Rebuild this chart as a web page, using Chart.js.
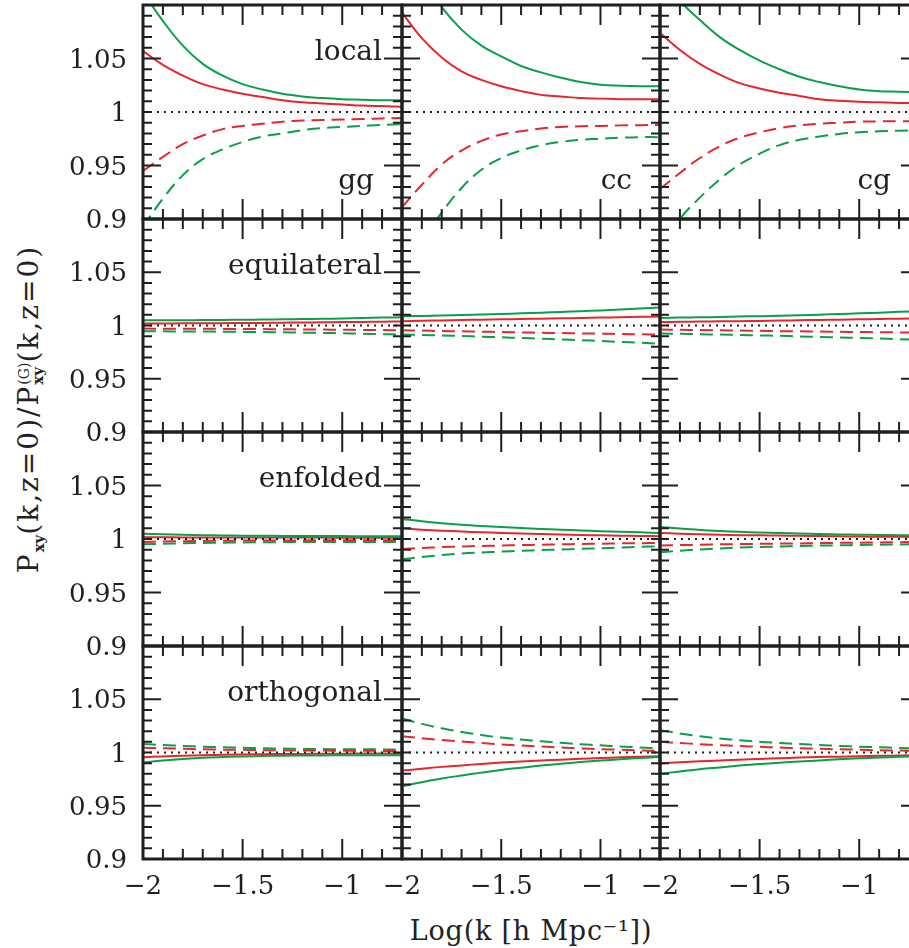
<!DOCTYPE html>
<html>
<head>
<meta charset="utf-8">
<title>P_xy ratio panels</title>
<script src="https://cdn.jsdelivr.net/npm/chart.js@4.4.1/dist/chart.umd.min.js"></script>
<style>
html, body { margin: 0; padding: 0; background: #fff; overflow: hidden; }
#wrap { position: relative; width: 909px; height: 948px; overflow: hidden; }
#wrap canvas { position: absolute; }
.ytitle {
    position: absolute; left: -191px; top: 389px; width: 440px; height: 40px;
    line-height: 40px; text-align: center; white-space: nowrap;
    font-family: "DejaVu Serif", serif; font-size: 28px; letter-spacing: 2px; color: #222;
    transform: rotate(-90deg);
}
.ytitle .sub { font-size: 15px; font-weight: bold; letter-spacing: 0; vertical-align: -6px; }
.ytitle .stack { display: inline-flex; flex-direction: column; font-size: 14px; line-height: 14px; letter-spacing: 0; vertical-align: 9px; text-align: left; }
.ytitle .stack b { font-size: 15px; font-weight: bold; }
.xtitle {
    position: absolute; left: 331px; top: 914px; width: 400px; height: 34px;
    line-height: 34px; text-align: center; white-space: nowrap;
    font-family: "DejaVu Serif", serif; font-size: 27px; letter-spacing: 0.8px; color: #222;
}
</style>
</head>
<body>
<div id="wrap">
  <div class="ytitle">P<span class="sub">xy</span>(k,z=0)/P<span class="stack"><span>(G)</span><b>xy</b></span>(k,z=0)</div>
  <div class="xtitle">Log(k [h Mpc⁻¹])</div>
</div>
<script>
// x values (log k) shared by every curve
var logK = [-2, -1.9, -1.8, -1.7, -1.6, -1.5, -1.4, -1.3, -1.2, -1.1, -1.0, -0.9, -0.8, -0.7];

// tick labels
var yTicks = [0.9, 0.95, 1, 1.05];
var yTickLabels = ['0.9', '0.95', '1', '1.05'];
var xTicks = [-2, -1.5, -1];
var xTickLabels = ['\u22122', '\u22121.5', '\u22121'];

// rows / columns
var shapes = ['local', 'equilateral', 'enfolded', 'orthogonal'];
var pairs = ['gg', 'cc', 'cg'];

// dotted reference line
var refX = [-2, -0.7];
var refY = [1, 1];

// ---- local ----
var local_gg_green     = [1.112, 1.085, 1.062, 1.045, 1.034, 1.026, 1.021, 1.017, 1.0145, 1.013, 1.012, 1.0115, 1.011, 1.011];
var local_gg_red       = [1.057, 1.044, 1.034, 1.026, 1.021, 1.017, 1.014, 1.011, 1.009, 1.008, 1.007, 1.006, 1.0055, 1.005];
var local_gg_redDash   = [0.945, 0.958, 0.970, 0.978, 0.984, 0.987, 0.989, 0.991, 0.992, 0.9925, 0.993, 0.9935, 0.994, 0.9945];
var local_gg_greenDash = [0.893, 0.919, 0.941, 0.956, 0.965, 0.972, 0.977, 0.980, 0.983, 0.985, 0.986, 0.987, 0.988, 0.9885];

var local_cc_green     = [1.16, 1.125, 1.098, 1.077, 1.062, 1.052, 1.043, 1.037, 1.032, 1.028, 1.0255, 1.0245, 1.024, 1.024];
var local_cc_red       = [1.093, 1.069, 1.051, 1.038, 1.030, 1.024, 1.0195, 1.016, 1.0145, 1.013, 1.0125, 1.012, 1.012, 1.0118];
var local_cc_redDash   = [0.911, 0.932, 0.951, 0.964, 0.973, 0.979, 0.982, 0.9845, 0.986, 0.9867, 0.987, 0.9875, 0.9877, 0.988];
var local_cc_greenDash = [0.85, 0.879, 0.906, 0.929, 0.946, 0.957, 0.964, 0.969, 0.972, 0.974, 0.975, 0.976, 0.9765, 0.9765];

var local_cg_green     = [1.13, 1.104, 1.086, 1.070, 1.058, 1.048, 1.040, 1.033, 1.028, 1.024, 1.021, 1.0195, 1.019, 1.0185];
var local_cg_red       = [1.074, 1.058, 1.045, 1.035, 1.027, 1.022, 1.018, 1.015, 1.012, 1.0105, 1.0095, 1.009, 1.0085, 1.0085];
var local_cg_redDash   = [0.928, 0.943, 0.957, 0.968, 0.976, 0.981, 0.985, 0.9875, 0.989, 0.990, 0.991, 0.9912, 0.9914, 0.9915];
var local_cg_greenDash = [0.87, 0.90, 0.920, 0.937, 0.951, 0.961, 0.969, 0.974, 0.977, 0.9795, 0.981, 0.982, 0.9825, 0.983];

// ---- equilateral ----
var equil_gg_green     = [1.005, 1.005, 1.005, 1.0051, 1.0052, 1.0054, 1.0056, 1.0058, 1.006, 1.0063, 1.0066, 1.007, 1.0074, 1.0078];
var equil_gg_red       = [1.0018, 1.0019, 1.002, 1.0021, 1.0022, 1.0023, 1.0024, 1.0026, 1.0028, 1.003, 1.0032, 1.0034, 1.0036, 1.0038];
var equil_gg_redDash   = [0.9971, 0.997, 0.997, 0.9969, 0.9968, 0.9967, 0.9966, 0.9965, 0.9963, 0.9962, 0.996, 0.9958, 0.9957, 0.9955];
var equil_gg_greenDash = [0.9946, 0.9945, 0.9944, 0.9943, 0.9942, 0.994, 0.9938, 0.9936, 0.9933, 0.993, 0.9927, 0.9923, 0.9919, 0.9915];

var equil_cc_green     = [1.0087, 1.009, 1.0094, 1.0098, 1.0103, 1.0108, 1.0114, 1.012, 1.0127, 1.0134, 1.0142, 1.015, 1.0159, 1.0168];
var equil_cc_red       = [1.004, 1.0044, 1.0048, 1.0052, 1.0055, 1.0058, 1.0061, 1.0064, 1.0067, 1.0071, 1.0074, 1.0078, 1.0081, 1.0084];
var equil_cc_redDash   = [0.9955, 0.9952, 0.9948, 0.9945, 0.9942, 0.9939, 0.9935, 0.9932, 0.9929, 0.9926, 0.9923, 0.992, 0.9917, 0.9915];
var equil_cc_greenDash = [0.9915, 0.9911, 0.9906, 0.9901, 0.9895, 0.9889, 0.9883, 0.9876, 0.9869, 0.9862, 0.9854, 0.9846, 0.9838, 0.983];

var equil_cg_green     = [1.0071, 1.0074, 1.0077, 1.008, 1.0084, 1.0088, 1.0092, 1.0097, 1.0102, 1.0108, 1.0114, 1.012, 1.0128, 1.0136];
var equil_cg_red       = [1.0033, 1.0035, 1.0037, 1.0039, 1.0041, 1.0043, 1.0046, 1.0049, 1.0052, 1.0055, 1.0058, 1.0061, 1.0064, 1.0067];
var equil_cg_redDash   = [0.9962, 0.996, 0.9957, 0.9955, 0.9952, 0.995, 0.9947, 0.9945, 0.9943, 0.9941, 0.9939, 0.9937, 0.9935, 0.9933];
var equil_cg_greenDash = [0.9925, 0.9922, 0.9918, 0.9915, 0.9911, 0.9907, 0.9903, 0.9898, 0.9893, 0.9888, 0.9883, 0.9878, 0.9872, 0.9867];

// ---- enfolded ----
var enfold_gg_green     = [1.005, 1.0044, 1.004, 1.0036, 1.0033, 1.0031, 1.003, 1.0029, 1.0028, 1.0027, 1.0027, 1.0026, 1.0026, 1.0026];
var enfold_gg_red       = [1.0016, 1.0016, 1.0015, 1.0015, 1.0014, 1.0014, 1.0014, 1.0013, 1.0013, 1.0013, 1.0012, 1.0012, 1.0012, 1.0012];
var enfold_gg_redDash   = [0.9973, 0.9977, 0.998, 0.9982, 0.9984, 0.9985, 0.9986, 0.9987, 0.9987, 0.9988, 0.9988, 0.9988, 0.9988, 0.9988];
var enfold_gg_greenDash = [0.995, 0.9956, 0.996, 0.9963, 0.9966, 0.9968, 0.997, 0.9971, 0.9972, 0.9973, 0.9973, 0.9973, 0.9973, 0.9973];

var enfold_cc_green     = [1.0188, 1.0166, 1.0148, 1.0133, 1.0121, 1.0111, 1.0102, 1.0094, 1.0087, 1.008, 1.0073, 1.0067, 1.0062, 1.0057];
var enfold_cc_red       = [1.0098, 1.0087, 1.0078, 1.007, 1.0063, 1.0057, 1.0052, 1.0047, 1.0042, 1.0038, 1.0034, 1.0031, 1.0028, 1.0026];
var enfold_cc_redDash   = [0.9907, 0.9916, 0.9924, 0.993, 0.9935, 0.9939, 0.9943, 0.9947, 0.995, 0.9953, 0.9956, 0.9959, 0.9961, 0.9963];
var enfold_cc_greenDash = [0.981, 0.9832, 0.985, 0.9864, 0.9874, 0.9882, 0.9889, 0.9896, 0.9902, 0.9908, 0.9914, 0.992, 0.9926, 0.9932];

var enfold_cg_green     = [1.0113, 1.0098, 1.0085, 1.0075, 1.0067, 1.0061, 1.0056, 1.0051, 1.0047, 1.0043, 1.004, 1.0038, 1.0036, 1.0035];
var enfold_cg_red       = [1.0057, 1.005, 1.0044, 1.004, 1.0036, 1.0034, 1.0032, 1.003, 1.0027, 1.0025, 1.0023, 1.0021, 1.002, 1.0019];
var enfold_cg_redDash   = [0.9939, 0.9943, 0.9947, 0.995, 0.9953, 0.9955, 0.9957, 0.9959, 0.9962, 0.9964, 0.9966, 0.9968, 0.997, 0.9972];
var enfold_cg_greenDash = [0.9876, 0.989, 0.9902, 0.9912, 0.992, 0.9926, 0.993, 0.9934, 0.9938, 0.9941, 0.9944, 0.9947, 0.9949, 0.9951];

// ---- orthogonal ----
var ortho_gg_green     = [0.9905, 0.9925, 0.994, 0.995, 0.9958, 0.9963, 0.9967, 0.997, 0.9972, 0.9973, 0.9974, 0.9975, 0.9975, 0.9975];
var ortho_gg_red       = [0.9955, 0.9963, 0.997, 0.9975, 0.998, 0.9982, 0.9984, 0.9986, 0.9987, 0.9988, 0.9989, 0.999, 0.999, 0.999];
var ortho_gg_redDash   = [1.0045, 1.004, 1.0035, 1.003, 1.0027, 1.0025, 1.0022, 1.002, 1.0019, 1.0018, 1.0017, 1.0016, 1.0015, 1.0015];
var ortho_gg_greenDash = [1.008, 1.007, 1.0062, 1.0055, 1.005, 1.0045, 1.004, 1.0037, 1.0034, 1.0032, 1.003, 1.003, 1.0029, 1.0028];

var ortho_cc_green     = [0.9684, 0.9721, 0.9755, 0.9784, 0.9811, 0.9836, 0.9857, 0.9877, 0.9894, 0.991, 0.9924, 0.9937, 0.9948, 0.9958];
var ortho_cc_red       = [0.983, 0.9848, 0.9865, 0.9879, 0.9893, 0.9905, 0.9915, 0.9925, 0.9933, 0.9941, 0.9948, 0.9955, 0.996, 0.9965];
var ortho_cc_redDash   = [1.0153, 1.0134, 1.0117, 1.0103, 1.0089, 1.0076, 1.0066, 1.0056, 1.0047, 1.0039, 1.0032, 1.0026, 1.002, 1.0015];
var ortho_cc_greenDash = [1.032, 1.0269, 1.0227, 1.0193, 1.0164, 1.014, 1.0122, 1.0105, 1.0091, 1.0078, 1.0067, 1.0057, 1.0047, 1.0037];

var ortho_cg_green     = [0.980, 0.9822, 0.9843, 0.986, 0.9877, 0.9892, 0.9904, 0.9916, 0.9926, 0.9936, 0.9945, 0.9952, 0.9959, 0.9965];
var ortho_cg_red       = [0.9897, 0.9908, 0.9917, 0.9925, 0.9933, 0.994, 0.9946, 0.9952, 0.9957, 0.9961, 0.9965, 0.9969, 0.9972, 0.9975];
var ortho_cg_redDash   = [1.010, 1.0089, 1.0078, 1.0069, 1.0061, 1.0053, 1.0046, 1.004, 1.0035, 1.003, 1.0026, 1.0022, 1.0018, 1.0015];
var ortho_cg_greenDash = [1.021, 1.0179, 1.0153, 1.0132, 1.0115, 1.01, 1.0089, 1.0079, 1.007, 1.0062, 1.0055, 1.0049, 1.0043, 1.0037];

// table of the four curves per panel: [green solid, red solid, red dashed, green dashed]
var panelSeries = {
    local: {
        gg: [local_gg_green, local_gg_red, local_gg_redDash, local_gg_greenDash],
        cc: [local_cc_green, local_cc_red, local_cc_redDash, local_cc_greenDash],
        cg: [local_cg_green, local_cg_red, local_cg_redDash, local_cg_greenDash]
    },
    equilateral: {
        gg: [equil_gg_green, equil_gg_red, equil_gg_redDash, equil_gg_greenDash],
        cc: [equil_cc_green, equil_cc_red, equil_cc_redDash, equil_cc_greenDash],
        cg: [equil_cg_green, equil_cg_red, equil_cg_redDash, equil_cg_greenDash]
    },
    enfolded: {
        gg: [enfold_gg_green, enfold_gg_red, enfold_gg_redDash, enfold_gg_greenDash],
        cc: [enfold_cc_green, enfold_cc_red, enfold_cc_redDash, enfold_cc_greenDash],
        cg: [enfold_cg_green, enfold_cg_red, enfold_cg_redDash, enfold_cg_greenDash]
    },
    orthogonal: {
        gg: [ortho_gg_green, ortho_gg_red, ortho_gg_redDash, ortho_gg_greenDash],
        cc: [ortho_cc_green, ortho_cc_red, ortho_cc_redDash, ortho_cc_greenDash],
        cg: [ortho_cg_green, ortho_cg_red, ortho_cg_redDash, ortho_cg_greenDash]
    }
};

var RED = '#e6262c';
var GREEN = '#0a9f4b';
var INK = '#1f1f1f';
var FONT = '"DejaVu Serif", serif';

// frame, inward ticks and text of one panel, placed with the chart's own scales
var panelFrame = {
    id: 'panelFrame',
    afterDatasetsDraw: function(chart, args, opts) {
        var ctx = chart.ctx;
        var a = chart.chartArea;
        var xs = chart.scales.x, ys = chart.scales.y;
        ctx.save();
        ctx.strokeStyle = INK;
        ctx.lineWidth = 2;
        ctx.beginPath();
        for (var i = 1; i < 20; i++) { // y ticks every 0.01
            var py = ys.getPixelForValue(0.9 + i * 0.01);
            var len = (i == 5 || i == 15) ? 18 : 9;
            ctx.moveTo(a.left, py); ctx.lineTo(a.left + len, py);
            ctx.moveTo(a.right, py); ctx.lineTo(a.right - len, py);
        }
        for (var j = 1; j < 13; j++) { // x ticks every 0.1
            var px = xs.getPixelForValue(-2 + j * 0.1);
            var l2 = (j % 5 == 0) ? 20 : 10;
            ctx.moveTo(px, a.top); ctx.lineTo(px, a.top + l2);
            ctx.moveTo(px, a.bottom); ctx.lineTo(px, a.bottom - l2);
        }
        ctx.stroke();
        ctx.lineWidth = 3;
        ctx.strokeRect(a.left, a.top, a.right - a.left, a.bottom - a.top);

        ctx.fillStyle = INK;
        ctx.font = '26px ' + FONT;
        if (opts.showY) {
            ctx.textAlign = 'right';
            ctx.textBaseline = 'alphabetic';
            yTicks.forEach(function(v, k) {
                ctx.fillText(yTickLabels[k], a.left - 16, ys.getPixelForValue(v) + 9);
            });
        }
        if (opts.showX) {
            ctx.textAlign = 'center';
            ctx.textBaseline = 'alphabetic';
            xTicks.forEach(function(v, k) {
                ctx.fillText(xTickLabels[k], xs.getPixelForValue(v), a.bottom + 35);
            });
        }
        ctx.font = '28px ' + FONT;
        ctx.textAlign = 'right';
        if (opts.shapeLabel) {
            ctx.fillText(opts.shapeLabel, a.right - 20, a.top + 55);
        }
        if (opts.pairLabel) {
            ctx.fillText(opts.pairLabel, a.right - 28, a.bottom - 30);
        }
        ctx.restore();
    }
};

function toPoints(xv, yv) {
    return xv.map(function(x, i) { return {x: x, y: yv[i]}; });
}

function curve(vals, color, dashed) {
    return {
        data: toPoints(logK, vals),
        borderColor: color,
        borderWidth: 2,
        borderDash: dashed ? [13, 7] : [],
        pointRadius: 0,
        tension: 0.4,
        clip: 0
    };
}

var wrap = document.getElementById('wrap');
var colLeft0 = 143.3, colW = 258.4, rowTop0 = 5, rowH = 213.5;

shapes.forEach(function(shape, r) {
    pairs.forEach(function(pair, c) {
        var left = Math.round(colLeft0 + c * colW);
        var right = Math.round(colLeft0 + (c + 1) * colW);
        var top = Math.round(rowTop0 + r * rowH);
        var bottom = Math.round(rowTop0 + (r + 1) * rowH);
        var padL = c == 0 ? 143 : 24, padR = 6, padT = 6, padB = r == 3 ? 60 : 16;

        var cv = document.createElement('canvas');
        var w = right - left + padL + padR, h = bottom - top + padT + padB;
        cv.width = w; cv.height = h;
        cv.style.width = w + 'px'; cv.style.height = h + 'px';
        cv.style.left = (left - padL) + 'px';
        cv.style.top = (top - padT) + 'px';
        wrap.appendChild(cv);

        var s = panelSeries[shape][pair];
        new Chart(cv.getContext('2d'), {
            type: 'line',
            data: {
                datasets: [
                    {
                        data: toPoints(refX, refY),
                        borderColor: INK, borderWidth: 2, borderDash: [2, 5],
                        pointRadius: 0, clip: 0
                    },
                    curve(s[0], GREEN, false),
                    curve(s[1], RED, false),
                    curve(s[2], RED, true),
                    curve(s[3], GREEN, true)
                ]
            },
            options: {
                responsive: false,
                animation: false,
                devicePixelRatio: 1,
                layout: { padding: { left: padL, right: padR, top: padT, bottom: padB } },
                scales: {
                    x: { type: 'linear', min: -2, max: -0.7, display: false },
                    y: { type: 'linear', min: 0.9, max: 1.1, display: false }
                },
                plugins: {
                    legend: { display: false },
                    tooltip: { enabled: false },
                    panelFrame: {
                        showY: c == 0,
                        showX: r == 3,
                        shapeLabel: c == 0 ? shape : '',
                        pairLabel: r == 0 ? pair : ''
                    }
                }
            },
            plugins: [panelFrame]
        });
    });
});
</script>
</body>
</html>
